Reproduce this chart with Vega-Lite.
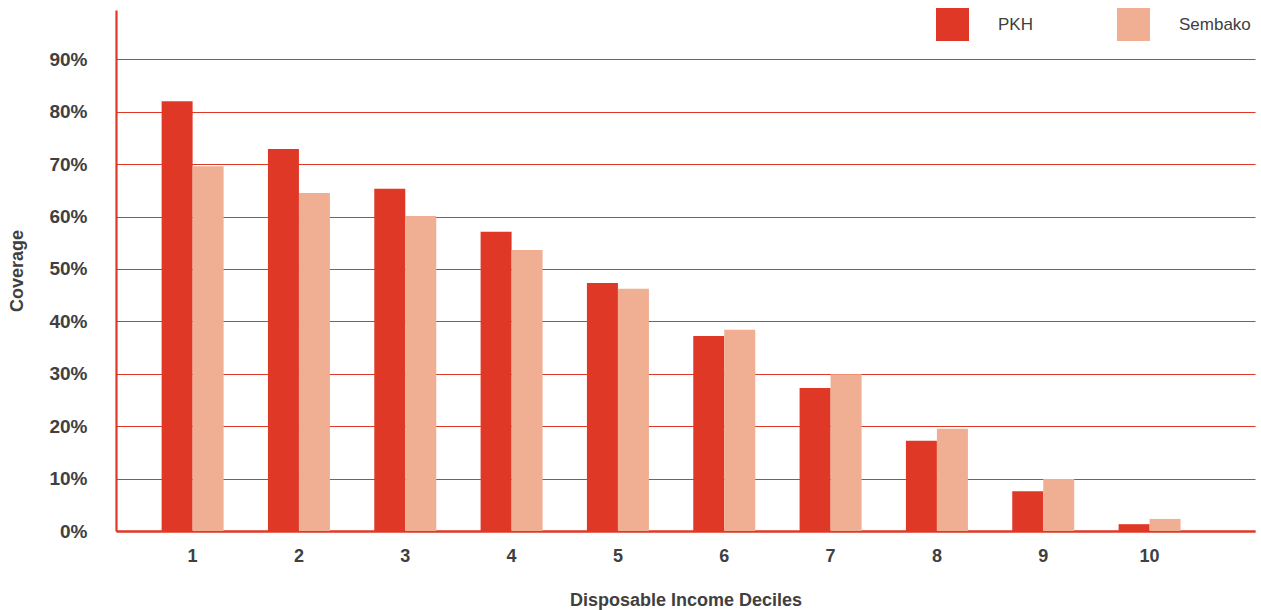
{
  "$schema": "https://vega.github.io/schema/vega-lite/v6.json",
  "width": 1139,
  "height": 521,
  "autosize": "none",
  "padding": {"left": 116, "top": 10, "right": 6, "bottom": 79},
  "background": "white",
  "config": {
    "view": {"stroke": null},
    "font": "Liberation Sans"
  },
  "data": {
    "values": [
      {"decile": "1", "program": "PKH", "coverage": 0.820},
      {"decile": "1", "program": "Sembako", "coverage": 0.696},
      {"decile": "2", "program": "PKH", "coverage": 0.729},
      {"decile": "2", "program": "Sembako", "coverage": 0.645},
      {"decile": "3", "program": "PKH", "coverage": 0.653},
      {"decile": "3", "program": "Sembako", "coverage": 0.601},
      {"decile": "4", "program": "PKH", "coverage": 0.571},
      {"decile": "4", "program": "Sembako", "coverage": 0.536},
      {"decile": "5", "program": "PKH", "coverage": 0.473},
      {"decile": "5", "program": "Sembako", "coverage": 0.462},
      {"decile": "6", "program": "PKH", "coverage": 0.372},
      {"decile": "6", "program": "Sembako", "coverage": 0.384},
      {"decile": "7", "program": "PKH", "coverage": 0.273},
      {"decile": "7", "program": "Sembako", "coverage": 0.299},
      {"decile": "8", "program": "PKH", "coverage": 0.172},
      {"decile": "8", "program": "Sembako", "coverage": 0.195},
      {"decile": "9", "program": "PKH", "coverage": 0.076},
      {"decile": "9", "program": "Sembako", "coverage": 0.099},
      {"decile": "10", "program": "PKH", "coverage": 0.013},
      {"decile": "10", "program": "Sembako", "coverage": 0.023}
    ]
  },
  "mark": {"type": "bar"},
  "encoding": {
    "x": {
      "field": "decile",
      "type": "ordinal",
      "sort": null,
      "scale": {"paddingInner": 0.417, "paddingOuter": 0.5645, "align": 0.38},
      "axis": {
        "title": "Disposable Income Deciles",
        "titleFontSize": 18,
        "titleFontWeight": "bold",
        "titleColor": "#404040",
        "titlePadding": 26,
        "labelAngle": 0,
        "labelFontSize": 18,
        "labelFontWeight": "bold",
        "labelColor": "#404040",
        "labelPadding": 16,
        "ticks": false,
        "domainColor": "#e03826",
        "domainWidth": 2.5,
        "grid": false
      }
    },
    "xOffset": {"field": "program", "type": "nominal"},
    "y": {
      "field": "coverage",
      "type": "quantitative",
      "scale": {"domain": [0, 0.994], "nice": false},
      "axis": {
        "title": "Coverage",
        "titleFontSize": 18,
        "titleFontWeight": "bold",
        "titleColor": "#404040",
        "titlePadding": 22,
        "format": ".0%",
        "values": [0, 0.1, 0.2, 0.3, 0.4, 0.5, 0.6, 0.7, 0.8, 0.9],
        "labelFontSize": 19,
        "labelFontWeight": "bold",
        "labelColor": "#404040",
        "labelPadding": 29,
        "ticks": false,
        "domainColor": "#e03826",
        "domainWidth": 2.2,
        "grid": true,
        "gridColor": "#e03826",
        "gridWidth": 1.2
      }
    },
    "color": {
      "field": "program",
      "type": "nominal",
      "scale": {"domain": ["PKH", "Sembako"], "range": ["#e03826", "#f0ae92"]},
      "legend": {
        "title": null,
        "orient": "none",
        "legendX": 820,
        "legendY": -2,
        "direction": "horizontal",
        "symbolType": "square",
        "symbolSize": 1089,
        "symbolStrokeWidth": 0,
        "labelFontSize": 17,
        "labelColor": "#404040",
        "labelOffset": 29,
        "columnPadding": 84
      }
    }
  }
}
